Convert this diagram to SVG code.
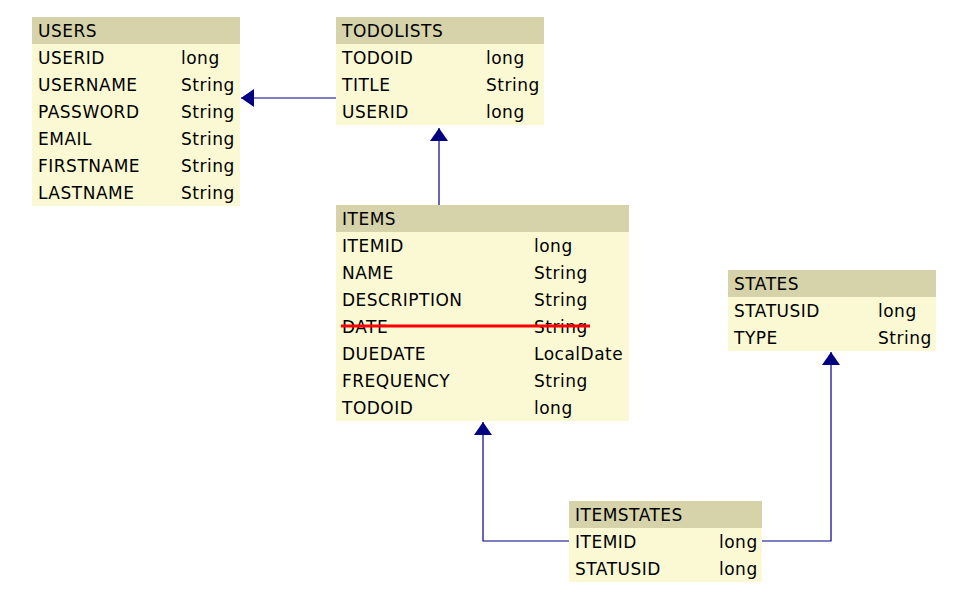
<svg xmlns="http://www.w3.org/2000/svg" width="960" height="600" viewBox="0 0 960 600">
<style>
.hd{fill:#d6d3aa}
.bd{fill:#fbf9d4}
text{font-family:"DejaVu Sans",Verdana,sans-serif;font-size:17px;fill:#000;letter-spacing:0.5px}
.cn{fill:none;stroke:#000080;stroke-width:1.2;marker-end:url(#ah)}
</style>
<defs>
<marker id="ah" viewBox="0 0 13 18" refX="13" refY="9" markerWidth="13" markerHeight="18" markerUnits="userSpaceOnUse" orient="auto">
<path d="M0,0 L13,9 L0,18 z" fill="#000080"/>
</marker>
</defs>
<rect width="960" height="600" fill="#fff"/>
<g id="connectors">
<path class="cn" d="M336,98 H241"/>
<path class="cn" d="M439,205 V128"/>
<path class="cn" d="M569,541 H483 V422"/>
<path class="cn" d="M762,541 H831 V352"/>
</g>
<g id="users">
<rect class="bd" x="32" y="44" width="208" height="162"/>
<rect class="hd" x="32" y="17" width="208" height="27"/>
<text x="38" y="37">USERS</text>
<text x="38" y="64">USERID</text><text x="181" y="64">long</text>
<text x="38" y="91">USERNAME</text><text x="181" y="91">String</text>
<text x="38" y="118">PASSWORD</text><text x="181" y="118">String</text>
<text x="38" y="145">EMAIL</text><text x="181" y="145">String</text>
<text x="38" y="172">FIRSTNAME</text><text x="181" y="172">String</text>
<text x="38" y="199">LASTNAME</text><text x="181" y="199">String</text>
</g>
<g id="todolists">
<rect class="bd" x="336" y="44" width="208" height="81"/>
<rect class="hd" x="336" y="17" width="208" height="27"/>
<text x="342" y="37">TODOLISTS</text>
<text x="342" y="64">TODOID</text><text x="486" y="64">long</text>
<text x="342" y="91">TITLE</text><text x="486" y="91">String</text>
<text x="342" y="118">USERID</text><text x="486" y="118">long</text>
</g>
<g id="items">
<rect class="bd" x="336" y="232" width="293" height="189"/>
<rect class="hd" x="336" y="205" width="293" height="27"/>
<text x="342" y="225">ITEMS</text>
<text x="342" y="252">ITEMID</text><text x="534" y="252">long</text>
<text x="342" y="279">NAME</text><text x="534" y="279">String</text>
<text x="342" y="306">DESCRIPTION</text><text x="534" y="306">String</text>
<text x="342" y="333">DATE</text><text x="534" y="333">String</text>
<text x="342" y="360">DUEDATE</text><text x="534" y="360">LocalDate</text>
<text x="342" y="387">FREQUENCY</text><text x="534" y="387">String</text>
<text x="342" y="414">TODOID</text><text x="534" y="414">long</text>
<line x1="341" y1="326" x2="590" y2="326" stroke="#ff0000" stroke-width="3"/>
</g>
<g id="states">
<rect class="bd" x="728" y="297" width="208" height="54"/>
<rect class="hd" x="728" y="270" width="208" height="27"/>
<text x="734" y="290">STATES</text>
<text x="734" y="317">STATUSID</text><text x="878" y="317">long</text>
<text x="734" y="344">TYPE</text><text x="878" y="344">String</text>
</g>
<g id="itemstates">
<rect class="bd" x="569" y="528" width="193" height="54"/>
<rect class="hd" x="569" y="501" width="193" height="27"/>
<text x="575" y="521">ITEMSTATES</text>
<text x="575" y="548">ITEMID</text><text x="719" y="548">long</text>
<text x="575" y="575">STATUSID</text><text x="719" y="575">long</text>
</g>
</svg>
